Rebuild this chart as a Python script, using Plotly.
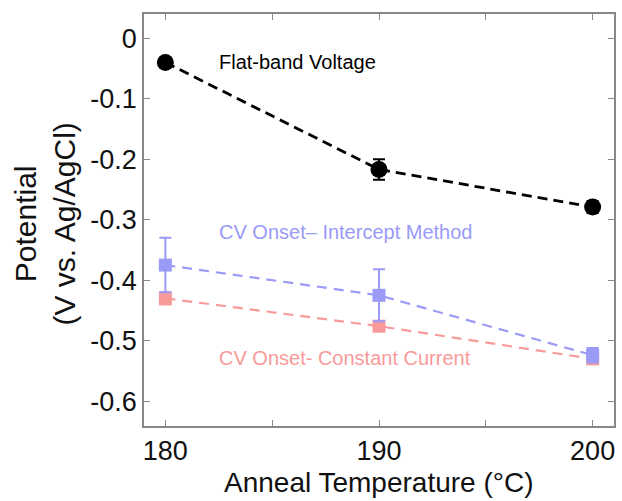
import plotly.graph_objects as go

temps = [180, 190, 200]
flatband = [-0.040, -0.217, -0.279]
flatband_err = [0.006, 0.017, 0.010]
cv_intercept = [-0.375, -0.425, -0.524]
cv_intercept_err = [0.045, 0.043, 0.012]
cv_constant = [-0.430, -0.476, -0.530]
cv_constant_err = [0.010, 0.008, 0.006]

BLUE = "#9a9af7"
RED = "#f99a9a"
FONT = "Arial, Liberation Sans, sans-serif"

fig = go.Figure()
fig.add_trace(go.Scatter(
    x=temps, y=cv_constant, mode="lines+markers",
    line=dict(color=RED, width=2.2, dash="10px,7px"),
    marker=dict(symbol="square", size=13, color=RED),
    error_y=dict(type="data", array=cv_constant_err, color=RED, thickness=2, width=6),
    showlegend=False))
fig.add_trace(go.Scatter(
    x=temps, y=cv_intercept, mode="lines+markers",
    line=dict(color=BLUE, width=2.2, dash="10px,7px"),
    marker=dict(symbol="square", size=13, color=BLUE),
    error_y=dict(type="data", array=cv_intercept_err, color=BLUE, thickness=2, width=6),
    showlegend=False))
fig.add_trace(go.Scatter(
    x=temps, y=flatband, mode="lines+markers",
    line=dict(color="black", width=2.8, dash="10px,6px"),
    marker=dict(symbol="circle", size=17, color="black"),
    error_y=dict(type="data", array=flatband_err, color="black", thickness=2, width=6),
    showlegend=False))

ann = [
    dict(x=182.4, y=-0.040, text="Flat-band Voltage", color="black"),
    dict(x=182.4, y=-0.321, text="CV Onset– Intercept Method", color=BLUE),
    dict(x=182.4, y=-0.529, text="CV Onset- Constant Current", color=RED),
]
for a in ann:
    fig.add_annotation(x=a["x"], y=a["y"], xref="x", yref="y", text=a["text"],
                       showarrow=False, xanchor="left", yanchor="middle",
                       font=dict(family=FONT, size=20, color=a["color"]))

# axis titles as annotations for exact placement
fig.add_annotation(x=-0.2097, y=0.49, xref="paper", yref="paper",
                   text="Potential<br>(V vs. Ag/AgCl)", textangle=-90, showarrow=False,
                   xanchor="center", yanchor="middle",
                   font=dict(family=FONT, size=30, color="#111"))
fig.add_annotation(x=0.5, y=-0.138, xref="paper", yref="paper",
                   text="Anneal Temperature (°C)", showarrow=False,
                   xanchor="center", yanchor="middle",
                   font=dict(family=FONT, size=28, color="#111"))

axis_common = dict(
    showgrid=False, zeroline=False, showline=True, linecolor="#888", linewidth=1.5,
    mirror="ticks", ticks="inside", ticklen=6, tickcolor="#888", tickwidth=1.2,
    tickfont=dict(family=FONT, size=27, color="#111"),
)
fig.update_xaxes(range=[179, 201], tickmode="array", tickvals=[180, 185, 190, 195, 200],
                 ticktext=["180", "", "190", "", "200"], **axis_common)
fig.update_yaxes(range=[-0.641, 0.04], tickmode="array",
                 tickvals=[0, -0.1, -0.2, -0.3, -0.4, -0.5, -0.6],
                 ticktext=["0", "-0.1", "-0.2", "-0.3", "-0.4", "-0.5", "-0.6"],
                 **axis_common)
fig.update_layout(width=622, height=501, margin=dict(l=144, r=6, t=14, b=75),
                  plot_bgcolor="white", paper_bgcolor="white", font=dict(family=FONT))
fig.write_html("out.html")
